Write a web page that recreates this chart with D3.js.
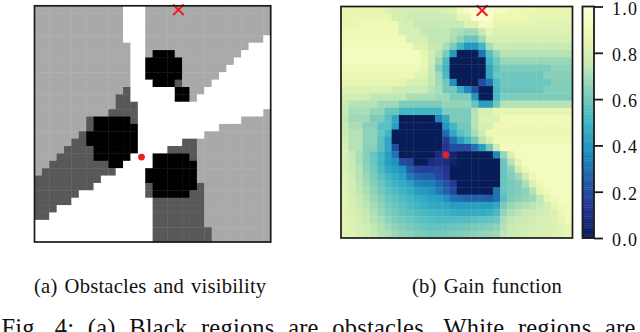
<!DOCTYPE html>
<html>
<head>
<meta charset="utf-8">
<script src="https://cdn.jsdelivr.net/npm/d3@7"></script>
<style>
  html, body { margin: 0; padding: 0; background: #fff; overflow: hidden; }
  text { font-family: "Liberation Serif", serif; fill: #111; }
</style>
</head>
<body>
<script>
// visibility map, one row per line as [class, run length] pairs
// 0 = visible, 1 = hidden from goal, 2 = hidden from both, 3 = obstacle
const visibilityRuns = [
  [[1,12],[0,3],[1,17]],
  [[1,12],[0,3],[1,17]],
  [[1,12],[0,3],[1,17]],
  [[1,12],[0,3],[1,17]],
  [[1,12],[0,3],[1,16],[0,1]],
  [[1,13],[0,2],[1,14],[0,3]],
  [[1,13],[0,2],[1,1],[3,3],[1,9],[0,4]],
  [[1,13],[0,2],[3,5],[1,7],[0,5]],
  [[1,13],[0,2],[3,5],[1,6],[0,6]],
  [[1,13],[0,2],[3,5],[1,5],[0,7]],
  [[1,13],[0,3],[3,3],[2,1],[1,4],[0,8]],
  [[1,12],[2,1],[0,6],[3,2],[1,2],[0,9]],
  [[1,11],[2,2],[0,6],[3,2],[1,1],[0,10]],
  [[1,11],[2,3],[0,18]],
  [[1,10],[2,4],[0,17],[1,1]],
  [[1,7],[2,1],[3,5],[2,1],[0,14],[1,4]],
  [[1,7],[2,1],[3,6],[0,11],[1,7]],
  [[1,6],[2,1],[3,7],[0,9],[1,9]],
  [[1,5],[2,2],[3,7],[0,6],[2,2],[1,10]],
  [[1,4],[2,4],[3,6],[0,4],[2,4],[1,10]],
  [[1,3],[2,5],[3,5],[0,3],[3,5],[2,1],[1,10]],
  [[1,2],[2,8],[3,2],[0,4],[3,6],[1,10]],
  [[1,1],[2,10],[0,4],[3,7],[1,10]],
  [[2,9],[0,6],[3,7],[1,10]],
  [[2,8],[0,7],[2,1],[3,6],[2,1],[1,9]],
  [[2,6],[0,9],[2,1],[3,5],[2,2],[1,9]],
  [[2,5],[0,11],[2,7],[1,9]],
  [[2,3],[0,13],[2,7],[1,9]],
  [[2,2],[0,14],[2,7],[1,9]],
  [[0,16],[2,7],[1,9]],
  [[0,16],[2,8],[1,8]],
  [[0,16],[2,8],[1,8]]
];
const visibilityColors = ['#ffffff', '#a9a9a9', '#585858', '#000000'];

const gain = [
  [.86,.86,.86,.87,.87,.86,.82,.80,.78,.78,.79,.79,.79,.79,.80,.82,.90,.95,.97,.99,.97,.93,.92,.90,.90,.88,.88,.87,.87,.87,.86,.86],
  [.87,.87,.87,.87,.87,.87,.87,.80,.80,.77,.77,.77,.77,.77,.77,.78,.85,.85,.97,.97,.97,.88,.88,.88,.88,.88,.85,.85,.85,.85,.85,.85],
  [.87,.87,.88,.88,.88,.88,.88,.88,.80,.80,.75,.75,.75,.75,.75,.75,.75,.82,.82,.92,.92,.85,.85,.85,.85,.85,.85,.83,.83,.83,.83,.83],
  [.89,.89,.89,.89,.89,.89,.89,.89,.80,.80,.80,.74,.74,.74,.74,.71,.70,.68,.68,.75,.85,.82,.82,.82,.82,.82,.82,.82,.82,.82,.82,.82],
  [.90,.90,.90,.90,.90,.90,.90,.90,.90,.80,.80,.80,.74,.74,.74,.70,.65,.58,.58,.68,.80,.80,.80,.80,.80,.80,.80,.80,.80,.80,.80,.80],
  [.91,.91,.91,.91,.91,.91,.91,.91,.91,.91,.82,.82,.75,.75,.70,.62,.50,.40,.40,.50,.70,.76,.76,.76,.76,.76,.76,.76,.76,.76,.76,.76],
  [.92,.92,.92,.92,.92,.92,.92,.92,.92,.92,.92,.85,.78,.72,.62,.40,0,0,0,.30,.55,.66,.72,.72,.72,.72,.72,.72,.72,.72,.72,.72],
  [.92,.92,.92,.92,.92,.92,.92,.92,.92,.92,.92,.87,.78,.68,.52,0,0,0,0,0,.50,.60,.67,.67,.67,.67,.67,.67,.67,.67,.67,.67],
  [.90,.90,.90,.90,.90,.90,.90,.90,.90,.90,.90,.85,.75,.63,.50,0,0,0,0,0,.45,.56,.62,.62,.62,.62,.62,.62,.62,.65,.65,.65],
  [.88,.88,.88,.88,.88,.88,.88,.88,.88,.88,.83,.83,.75,.68,.52,0,0,0,0,0,.45,.58,.59,.59,.59,.59,.59,.59,.64,.64,.64,.64],
  [.85,.85,.85,.85,.85,.85,.85,.85,.85,.80,.80,.80,.74,.68,.60,.38,0,0,0,.20,.30,.53,.59,.59,.59,.59,.59,.59,.59,.63,.63,.63],
  [.82,.82,.82,.82,.82,.82,.82,.77,.77,.77,.77,.77,.72,.70,.60,.60,.48,.35,.20,0,0,.51,.58,.58,.58,.58,.58,.58,.63,.63,.63,.63],
  [.78,.78,.78,.78,.74,.74,.74,.74,.74,.70,.70,.70,.70,.68,.68,.62,.62,.62,.40,0,0,.52,.62,.62,.62,.62,.62,.62,.62,.62,.62,.62],
  [.75,.72,.72,.72,.72,.68,.68,.68,.62,.62,.62,.62,.62,.62,.66,.66,.66,.66,.58,.42,.42,.60,.72,.72,.72,.72,.72,.72,.72,.72,.72,.72],
  [.75,.70,.70,.70,.66,.66,.58,.58,.50,.50,.50,.50,.50,.50,.62,.62,.62,.62,.72,.80,.80,.85,.85,.85,.85,.85,.85,.85,.85,.85,.85,.85],
  [.74,.68,.68,.68,.62,.62,.55,.45,0,0,0,0,0,.35,.45,.62,.62,.62,.72,.82,.82,.82,.90,.90,.90,.90,.90,.90,.90,.90,.90,.90],
  [.75,.70,.70,.64,.64,.55,.55,.42,0,0,0,0,0,0,.40,.50,.60,.60,.72,.80,.80,.88,.88,.88,.88,.88,.88,.88,.88,.88,.88,.88],
  [.76,.72,.72,.65,.65,.58,.50,0,0,0,0,0,0,0,.28,.45,.55,.60,.70,.78,.88,.88,.88,.88,.88,.88,.88,.88,.88,.88,.88,.88],
  [.78,.72,.72,.65,.65,.55,.45,0,0,0,0,0,0,0,.15,.30,.42,.50,.60,.72,.80,.90,.90,.90,.90,.90,.90,.90,.90,.90,.90,.90],
  [.80,.72,.72,.64,.64,.55,.45,.20,0,0,0,0,0,0,.12,.20,.20,.20,.30,.42,.60,.78,.92,.92,.92,.92,.92,.92,.92,.92,.92,.92],
  [.80,.75,.70,.64,.58,.50,.42,.30,0,0,0,0,0,.08,.10,.05,0,0,0,0,0,.35,.67,.82,.92,.92,.92,.92,.92,.92,.92,.92],
  [.80,.76,.70,.64,.58,.50,.42,.38,.20,.17,0,0,.08,.10,.08,.03,0,0,0,0,0,0,.58,.72,.85,.92,.92,.92,.92,.92,.92,.92],
  [.80,.76,.72,.65,.60,.52,.45,.42,.38,.25,.18,.16,.16,.16,.12,0,0,0,0,0,0,0,.58,.65,.78,.88,.92,.92,.92,.92,.92,.92],
  [.82,.78,.72,.67,.62,.55,.50,.46,.42,.32,.27,.25,.24,.18,.14,0,0,0,0,0,0,0,.58,.63,.68,.78,.88,.92,.92,.92,.92,.92],
  [.82,.78,.73,.68,.63,.58,.53,.49,.46,.42,.35,.33,.33,.28,.22,.14,0,0,0,0,0,0,.58,.61,.63,.70,.82,.88,.92,.92,.92,.92],
  [.83,.78,.74,.70,.65,.60,.56,.52,.49,.46,.42,.40,.38,.32,.26,.18,0,0,0,0,0,.30,.58,.61,.63,.65,.72,.85,.90,.92,.92,.92],
  [.83,.80,.76,.72,.67,.63,.59,.56,.53,.50,.47,.46,.43,.42,.38,.30,.28,.26,.26,.26,.24,.30,.55,.62,.64,.66,.68,.74,.85,.90,.92,.92],
  [.84,.80,.77,.73,.69,.65,.61,.58,.55,.52,.50,.48,.46,.45,.44,.42,.42,.42,.42,.42,.42,.45,.62,.67,.69,.71,.73,.75,.79,.87,.90,.90],
  [.84,.81,.78,.75,.71,.67,.63,.60,.57,.55,.53,.52,.50,.49,.48,.47,.46,.46,.46,.46,.48,.52,.66,.71,.73,.75,.76,.78,.80,.82,.88,.90],
  [.84,.82,.79,.76,.72,.69,.65,.62,.60,.58,.56,.55,.54,.53,.53,.53,.54,.54,.55,.56,.57,.59,.70,.74,.76,.77,.78,.80,.81,.82,.85,.90],
  [.84,.82,.80,.78,.74,.71,.68,.65,.63,.61,.60,.58,.57,.57,.57,.58,.59,.60,.61,.62,.63,.65,.72,.76,.77,.78,.80,.80,.81,.82,.84,.86],
  [.84,.83,.80,.78,.75,.72,.70,.67,.65,.64,.62,.61,.60,.60,.60,.62,.63,.64,.65,.66,.67,.68,.74,.77,.78,.79,.80,.80,.81,.82,.83,.85]
];

const barTicks = [0, 0.2, 0.4, 0.6, 0.8, 1.0];
// robot and goal, in grid cells (column, row)
const robot = [14.5, 20.5];
const goal = [19.5, 0.55];

const captionA = '(a) Obstacles and visibility';
const captionB = '(b) Gain function';
const figText = 'Fig. 4: (a) Black regions are obstacles. White regions are';

const width = 640;
const height = 332;

const svg = d3.select('body').append('svg')
  .attr('width', width)
  .attr('height', height);

// YlGnBu reversed, same linear ramp matplotlib uses
const gainColor = d3.scaleLinear()
  .domain(d3.range(9).map(i => i / 8))
  .range(d3.schemeYlGnBu[9].slice().reverse());

function panel(left, top, size) {
  const g = svg.append('g');
  const x = d3.scaleLinear().domain([0, 32]).range([left, left + size]);
  const y = d3.scaleLinear().domain([0, 32]).range([top, top + size]);
  return { g, x, y, left, top, size };
}

function drawCells(p, rows, color) {
  rows.forEach((row, r) => {
    p.g.append('g').selectAll('rect')
      .data(row)
      .enter()
      .append('rect')
      .attr('x', (d, c) => p.x(c))
      .attr('y', p.y(r))
      .attr('width', (p.x(1) - p.x(0)) + 0.4)
      .attr('height', (p.y(1) - p.y(0)) + 0.4)
      .attr('fill', color);
  });
}

function drawMarkers(p) {
  p.g.append('path')
    .attr('d', d3.symbol(d3.symbolTimes, 75)())
    .attr('transform', `translate(${p.x(goal[0])}, ${p.y(goal[1])})`)
    .attr('fill', 'none')
    .attr('stroke', '#ee1c25')
    .attr('stroke-width', 2);
  p.g.append('circle')
    .attr('cx', p.x(robot[0]))
    .attr('cy', p.y(robot[1]))
    .attr('r', 3.4)
    .attr('fill', '#ee1c25');
}

function drawFrame(p) {
  p.g.append('rect')
    .attr('x', p.left)
    .attr('y', p.top)
    .attr('width', p.size)
    .attr('height', p.size)
    .attr('fill', 'none')
    .attr('stroke', '#1a1a1a')
    .attr('stroke-width', 1.7);
}

// left panel
const visibility = visibilityRuns.map(row =>
  d3.merge(row.map(([v, n]) => d3.range(n).map(() => v))));
const left = panel(34.5, 5.8, 236.2);
drawCells(left, visibility, d => visibilityColors[d]);
drawMarkers(left);
drawFrame(left);

// right panel
const right = panel(341, 6.5, 231.5);
drawCells(right, gain, d => gainColor(d));
drawMarkers(right);
drawFrame(right);

// colorbar
const barScale = d3.scaleLinear().domain([0, 1]).range([238, 6.5]);
const barLeft = 582.5;
const barWidth = 11.5;
const bar = svg.append('g');
bar.selectAll('rect')
  .data(d3.range(0, 1, 1 / 128))
  .enter()
  .append('rect')
  .attr('x', barLeft)
  .attr('y', d => barScale(d + 1 / 128))
  .attr('width', barWidth)
  .attr('height', barScale(0) - barScale(1 / 128) + 0.4)
  .attr('fill', d => gainColor(d));
bar.append('rect')
  .attr('x', barLeft)
  .attr('y', barScale(1))
  .attr('width', barWidth)
  .attr('height', barScale(0) - barScale(1))
  .attr('fill', 'none')
  .attr('stroke', '#1a1a1a')
  .attr('stroke-width', 1.8);

const barAxis = d3.axisRight(barScale)
  .tickValues(barTicks)
  .tickFormat(d3.format('.1f'))
  .tickSize(9)
  .tickPadding(9);
const axisG = svg.append('g')
  .attr('transform', `translate(${barLeft + barWidth}, 0)`)
  .call(barAxis);
axisG.select('.domain').remove();
axisG.selectAll('line').attr('stroke', '#1a1a1a').attr('stroke-width', 1.8);
axisG.selectAll('text')
  .attr('dy', '0.42em')
  .attr('font-size', 18)
  .attr('letter-spacing', 1.2)
  .attr('font-family', '"Liberation Serif", serif')
  .attr('fill', '#111');

// captions
svg.append('text').attr('x', 34).attr('y', 293.3).attr('font-size', 20.6)
  .attr('letter-spacing', 0.2).attr('word-spacing', 1.8).text(captionA);
svg.append('text').attr('x', 412).attr('y', 293.3).attr('font-size', 20.6)
  .attr('letter-spacing', 0.2).attr('word-spacing', 1.8).text(captionB);
svg.append('text').attr('x', 1.5).attr('y', 336).attr('font-size', 24.5)
  .attr('letter-spacing', 0.2).attr('word-spacing', 7.3).text(figText);
</script>
</body>
</html>
